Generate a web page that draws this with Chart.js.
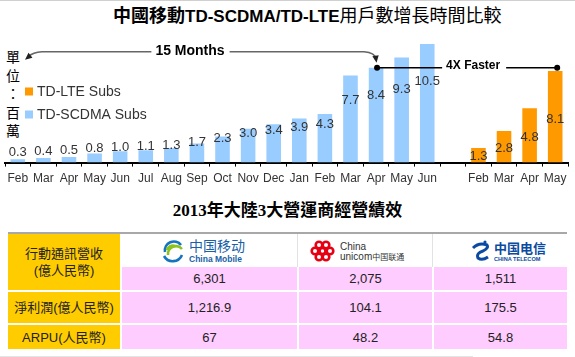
<!DOCTYPE html>
<html><head><meta charset="utf-8">
<script src="https://cdn.jsdelivr.net/npm/chart.js@4.4.1/dist/chart.umd.min.js"></script>
<style>
html,body{margin:0;padding:0;background:#fff;}
body{width:575px;height:357px;position:relative;overflow:hidden;font-family:"Liberation Sans","Noto Sans CJK TC",sans-serif;color:#222;}
.abs{position:absolute;}
#topline{left:0;top:0;width:575px;height:1px;background:#d0d0d0;}
#botline{left:0;top:356px;width:473px;height:1px;background:#e4e4e4;}
#title{left:113px;top:2px;white-space:nowrap;font-size:18px;line-height:24px;color:#000;font-family:"Noto Sans CJK TC",sans-serif;}
#title .b{font-weight:bold;}
#title .lat{font-family:"Liberation Sans",Arial,sans-serif;font-weight:bold;font-size:17px;}
#unit{left:4px;top:47px;width:18px;text-align:center;font-size:14px;line-height:18.5px;color:#000;font-family:"Noto Sans CJK TC",sans-serif;}
#chart{left:0;top:0;}
#title2{left:0;top:199px;width:575px;text-align:center;white-space:nowrap;font-size:17px;line-height:24px;font-weight:bold;color:#000;font-family:"Liberation Serif","Noto Sans CJK TC",serif;}
.cell{position:absolute;display:flex;align-items:center;justify-content:center;text-align:center;font-size:13px;line-height:17px;color:#222;}
.lab{background:#FFCC00;}
.val{background:#FFCCFF;}
.hdr{background:#fff;}
</style>
</head><body>
<div id="topline" class="abs"></div>
<div id="title" class="abs"><span class="b">中國移動</span><span class="lat">TD-SCDMA/TD-LTE</span><span>用戶數增長時間比較</span></div>
<div id="unit" class="abs">單<br>位<br>：<br>百<br>萬</div>
<canvas id="chart" class="abs" width="575" height="195"></canvas>
<div id="title2" class="abs">2013年大陸3大營運商經營績效</div>
<div id="table"></div>
<div id="botline" class="abs"></div>
<script>
// ---- chart data ----
const months = ['Feb','Mar','Apr','May','Jun','Jul','Aug','Sep','Oct','Nov','Dec','Jan','Feb','Mar','Apr','May','Jun','','Feb','Mar','Apr','May'];
const tdscdmaSubs = [0.3,0.4,0.5,0.8,1.0,1.1,1.3,1.7,2.3,3.0,3.4,3.9,4.3,7.7,8.4,9.3,10.5,null,null,null,null,null];
const tdlteSubs = [null,null,null,null,null,null,null,null,null,null,null,null,null,null,null,null,null,null,1.3,2.8,4.8,8.1];
const seriesNames = ['TD-SCDMA Subs','TD-LTE Subs'];
const annotationTexts = ['15 Months','4X Faster'];

// ---- table data ----
const tableRowLabels = [['行動通訊營收','(億人民幣)'],['淨利潤(億人民幣)'],['ARPU(人民幣)']];
const operators = ['China Mobile','China Unicom','China Telecom'];
const revenue = ['6,301','2,075','1,511'];
const netProfit = ['1,216.9','104.1','175.5'];
const arpu = ['67','48.2','54.8'];

const COLORS = ['#99CCFF','#FF9900'];
// label placement factors per series (as in the original graphic)
const LABEL_FRAC = [0.617, 0.487];
const LABEL_LIFT = [9.4, -0.3];

const extrasPlugin = {
  id:'extras',
  afterDatasetsDraw(chart){
    const ctx = chart.ctx, xs = chart.scales.x, ys = chart.scales.y;
    // value labels
    ctx.save();
    ctx.font = '13px "Liberation Sans", Arial, sans-serif';
    ctx.fillStyle = '#333';
    ctx.textAlign = 'center';
    ctx.textBaseline = 'middle';
    chart.data.datasets.forEach((ds, di) => {
      ds.data.forEach((v, i) => {
        if (v == null) return;
        const x = xs.getPixelForValue(i);
        const y = ys.getPixelForValue(v * LABEL_FRAC[di]) - LABEL_LIFT[di];
        ctx.fillText(v.toFixed(1), x, y + 1);
      });
    });
    ctx.restore();

    // legend (reverse order)
    ctx.save();
    ctx.font = '14px "Liberation Sans", Arial, sans-serif';
    ctx.textBaseline = 'middle';
    ctx.textAlign = 'left';
    const lx = chart.chartArea.left + 20;
    const ly0 = 91.5;
    const order = [1,0];
    order.forEach((di, k) => {
      const ds = chart.data.datasets[di];
      const y = ly0 + k * 23;
      ctx.fillStyle = ds.backgroundColor;
      ctx.fillRect(lx, y - 4, 8, 8);
      ctx.fillStyle = '#333';
      ctx.fillText(ds.label, lx + 12, y + 0.5);
    });
    ctx.restore();

    // annotations
    const ia = 14, ib = 21;
    const xA = xs.getPixelForValue(ia) + 1;
    const xB = xs.getPixelForValue(ib) + 2;
    const yDot = ys.getPixelForValue(tdscdmaSubs[ia]);
    ctx.save();
    // 4X Faster
    ctx.strokeStyle = '#000'; ctx.fillStyle = '#000'; ctx.lineWidth = 1.5;
    ctx.font = 'bold 12px "Liberation Sans", Arial, sans-serif';
    ctx.textAlign = 'center'; ctx.textBaseline = 'middle';
    const tx = (xA + xB) / 2 + 6;
    const tw = ctx.measureText(annotationTexts[1]).width;
    ctx.beginPath();
    ctx.moveTo(xA, yDot); ctx.lineTo(tx - tw/2 - 4, yDot);
    ctx.moveTo(tx + tw/2 + 6, yDot); ctx.lineTo(xB, yDot);
    ctx.stroke();
    ctx.fillText(annotationTexts[1], tx, yDot - 2);
    [xA, xB].forEach(x => { ctx.beginPath(); ctx.arc(x, yDot, 3, 0, Math.PI*2); ctx.fill(); });

    // 15 Months
    const yl = yDot - 16;
    const leftTipX = chart.chartArea.left + 20, leftTipY = yDot - 8;
    ctx.font = 'bold 14px "Liberation Sans", Arial, sans-serif';
    const mx = 190;
    const mw = ctx.measureText(annotationTexts[0]).width;
    ctx.strokeStyle = '#666'; ctx.fillStyle = '#000'; ctx.lineWidth = 1.6;
    ctx.beginPath();
    ctx.moveTo(mx - mw/2 - 4, yl);
    ctx.lineTo(leftTipX + 17, yl);
    ctx.quadraticCurveTo(leftTipX + 8, yl + 0.5, leftTipX + 3, leftTipY - 3);
    ctx.stroke();
    ctx.beginPath();
    ctx.moveTo(mx + mw/2 + 5, yl);
    ctx.lineTo(xA - 13, yl);
    ctx.quadraticCurveTo(xA - 2, yl + 1, xA - 1, yDot - 9);
    ctx.stroke();
    ctx.fillText(annotationTexts[0], mx, yl - 1);
    // arrowheads
    function head(tx, ty, ang, col){
      ctx.save(); ctx.fillStyle = col; ctx.translate(tx, ty); ctx.rotate(ang);
      ctx.beginPath(); ctx.moveTo(0,0); ctx.lineTo(-7,-3.2); ctx.lineTo(-7,3.2); ctx.closePath(); ctx.fill(); ctx.restore();
    }
    head(leftTipX, leftTipY, Math.atan2(leftTipY - yl, leftTipX - (leftTipX + 10)) , '#222');
    head(xA - 0.5, yDot - 5, Math.PI/2 - 0.15, '#222');
    ctx.restore();
  }
};

new Chart(document.getElementById('chart'), {
  type:'bar',
  data:{
    labels: months,
    datasets:[
      {label:seriesNames[0], data:tdscdmaSubs, backgroundColor:COLORS[0], grouped:false, barPercentage:0.57, categoryPercentage:1},
      {label:seriesNames[1], data:tdlteSubs, backgroundColor:COLORS[1], grouped:false, barPercentage:0.57, categoryPercentage:1}
    ]
  },
  options:{
    responsive:false, animation:false, devicePixelRatio:1,
    layout:{padding:{left:5, right:7, top:27, bottom:4}},
    plugins:{legend:{display:false}, tooltip:{enabled:false}},
    scales:{
      y:{display:false, min:0, max:12},
      x:{
        grid:{offset:true, drawOnChartArea:false, drawTicks:true, tickLength:4, color:'#000', lineWidth:1},
        border:{display:true, color:'#000', width:2},
        ticks:{autoSkip:false, maxRotation:0, color:'#333', padding:5, font:{size:12, family:'"Liberation Sans", Arial, sans-serif'}}
      }
    }
  },
  plugins:[extrasPlugin]
});

// ---- table ----
(function(){
  const T = document.getElementById('table');
  function add(cls, l, t, w, h, html){
    const d = document.createElement('div');
    d.className = 'cell ' + cls;
    d.style.left = l+'px'; d.style.top = t+'px'; d.style.width = w+'px'; d.style.height = h+'px';
    d.innerHTML = html || '';
    T.appendChild(d);
    return d;
  }
  const cols = [[122,175],[299,133],[434,133]];
  const border = document.createElement('div');
  border.className = 'abs'; border.style.cssText = 'left:8px;top:232px;width:559px;height:2px;background:#a8a8a8;';
  T.appendChild(border);
  add('lab', 8, 234, 112, 56, tableRowLabels[0].join('<br>'));
  add('lab', 8, 292, 112, 31, tableRowLabels[1][0]);
  add('lab', 8, 325, 112, 24, tableRowLabels[2][0]);
  const logos = [
    '<svg width="90" height="24" viewBox="0 0 90 24"><g fill="none" stroke-width="2.6"><path d="M4 13 A9 9 0 0 1 20 6" stroke="#1574c0"/><path d="M7 16 A8 8 0 0 1 21 10" stroke="#8cc220"/><path d="M3 17 A10 10 0 0 0 21 16" stroke="#1574c0"/><path d="M6 11 A6 6 0 0 1 14 7" stroke="#8cc220"/></g>'+
    '<text x="28" y="12" font-size="14" fill="#1a5fa8" font-family="Noto Sans CJK SC">中国移动</text><text x="28" y="22.5" font-size="8.5" fill="#1a5fa8" font-family="Liberation Sans" font-weight="bold">China Mobile</text></svg>',
    '<svg width="100" height="24" viewBox="0 0 100 24"><g fill="none" stroke="#e60012" stroke-width="2.6"><circle cx="9" cy="6" r="3.3"/><circle cx="16" cy="6" r="3.3"/><circle cx="5" cy="12" r="3.3"/><circle cx="20" cy="12" r="3.3"/><circle cx="9" cy="18" r="3.3"/><circle cx="16" cy="18" r="3.3"/><circle cx="12.5" cy="12" r="3"/></g>'+
    '<text x="30" y="11" font-size="10" fill="#333" font-family="Liberation Sans">China</text><text x="30" y="21" font-size="10" fill="#333" font-family="Liberation Sans">unicom<tspan font-size="8" font-family="Noto Sans CJK SC">中国联通</tspan></text></svg>',
    '<svg width="76" height="24" viewBox="0 0 76 24"><path d="M3 9 Q9 3 17 6 Q19 9 13 12 Q6 14 8 19 Q12 22 18 18" fill="none" stroke="#0a4aa0" stroke-width="3"/><circle cx="15" cy="3" r="1.6" fill="#0a4aa0"/>'+
    '<text x="24" y="14" font-size="13" font-weight="bold" fill="#0a4aa0" font-family="Noto Sans CJK SC">中国电信</text><text x="24" y="22" font-size="5.6" font-weight="bold" fill="#0a4aa0" font-family="Liberation Sans">CHINA TELECOM</text></svg>'
  ];
  const offsets = [-7, -12, 14];
  cols.forEach((c, i) => {
    const h = add('hdr', c[0], 234, c[1], 33, logos[i]);
    h.firstChild.style.marginLeft = offsets[i] + 'px';
    h.title = operators[i];
    add('val', c[0], 267, c[1], 23, revenue[i]);
    add('val', c[0], 292, c[1], 31, netProfit[i]);
    add('val', c[0], 325, c[1], 24, arpu[i]);
  });
  [297, 432].forEach(x => {
    const s = document.createElement('div'); s.className='abs';
    s.style.cssText = 'left:'+x+'px;top:234px;width:1px;height:33px;background:#e2e2e2;';
    T.appendChild(s);
  });
})();
</script>
</body></html>
